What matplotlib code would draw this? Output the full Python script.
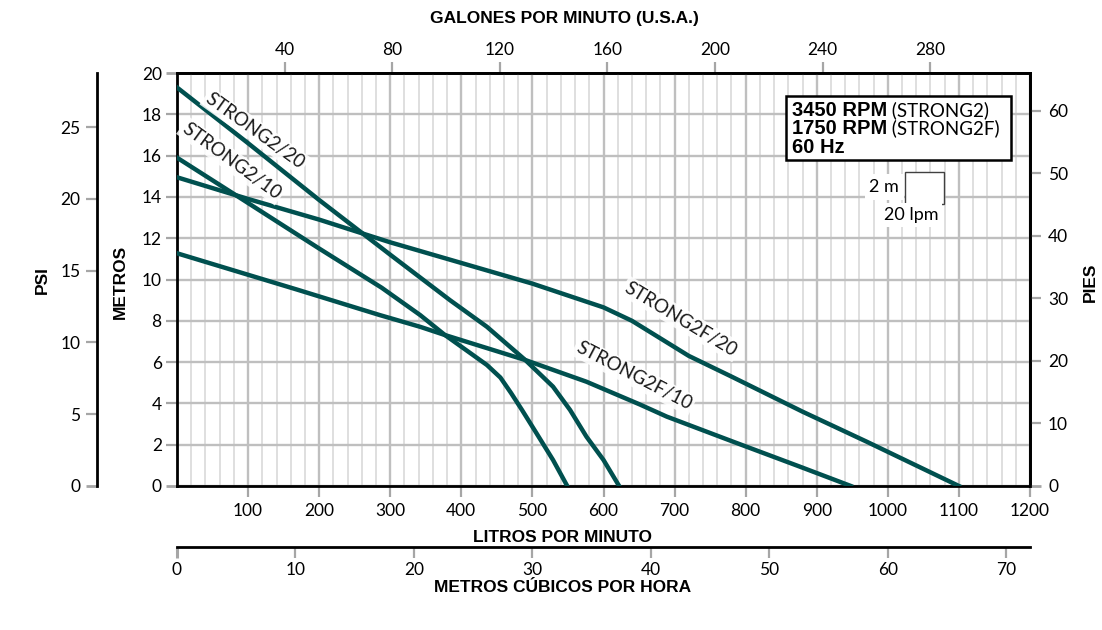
import matplotlib
matplotlib.use("Agg")
import matplotlib.pyplot as plt
from matplotlib import font_manager
from matplotlib.patches import Rectangle

# ---------------- data ----------------
s2_20_lpm = [0, 100, 200, 300, 384, 436, 490, 529, 553, 576, 600, 622]
s2_20_m = [19.3, 16.6, 13.85, 11.2, 9.0, 7.71, 6.1, 4.81, 3.68, 2.39, 1.26, 0.0]

s2_10_lpm = [0, 82, 150, 200, 288, 342, 377, 410, 436, 455, 470, 485, 506, 529, 549]
s2_10_m = [15.9, 14.1, 12.6, 11.5, 9.6, 8.28, 7.31, 6.5, 5.86, 5.25, 4.5, 3.7, 2.54, 1.26, 0.0]

s2f_20_lpm = [0, 100, 200, 300, 400, 500, 600, 640, 680, 720, 780, 880, 970, 1100]
s2f_20_m = [14.95, 13.9, 12.9, 11.8, 10.8, 9.8, 8.65, 8.0, 7.15, 6.3, 5.3, 3.6, 2.15, 0.0]

s2f_10_lpm = [0, 170, 285, 342, 377, 490, 576, 651, 689, 782, 876, 948]
s2f_10_m = [11.27, 9.5, 8.28, 7.71, 7.31, 6.1, 5.05, 3.95, 3.36, 2.15, 0.94, 0.0]

curve_names = ["STRONG2/20", "STRONG2/10", "STRONG2F/20", "STRONG2F/10"]

lpm_ticks = [100, 200, 300, 400, 500, 600, 700, 800, 900, 1000, 1100, 1200]
m_ticks = [0, 2, 4, 6, 8, 10, 12, 14, 16, 18, 20]
gpm_ticks = [40, 80, 120, 160, 200, 240, 280]
m3h_ticks = [0, 10, 20, 30, 40, 50, 60, 70]
psi_ticks = [0, 5, 10, 15, 20, 25]
ft_ticks = [0, 10, 20, 30, 40, 50, 60]

LPM_PER_GPM = 3.785
M3H_PER_LPM = 0.06
M_PER_PSI = 0.695
FT_PER_M = 3.3

# ---------------- fonts ----------------
names = {f.name for f in font_manager.fontManager.ttflist}
BOLD_FAM = ["Liberation Sans", "DejaVu Sans"]
TXT_FAM = ["Lato", "DejaVu Sans"] if "Lato" in names else ["DejaVu Sans"]
plt.rcParams["font.family"] = TXT_FAM

W, H = 1102, 630
fig = plt.figure(figsize=(W / 100, H / 100), dpi=100)
L, R, B, T = 177, 1030, 486, 73
ax = fig.add_axes([L / W, 1 - B / H, (R - L) / W, (B - T) / H])

CURVE = "#00504f"
GRID_MAJ = "#bfbfbf"
GRID_MIN = "#d6d6d6"
TICK = "#a6a6a6"

ax.set_xlim(0, 1200)
ax.set_ylim(0, 20)
ax.set_xticks(lpm_ticks)
ax.set_xticks(range(0, 1201, 20), minor=True)
ax.set_yticks(m_ticks)
ax.set_axisbelow(True)
ax.grid(which="major", axis="x", color=GRID_MAJ, lw=1.7)
ax.grid(which="minor", axis="x", color=GRID_MIN, lw=1.1)
ax.grid(which="major", axis="y", color=GRID_MAJ, lw=1.7)
ax.tick_params(which="minor", length=0)
ax.tick_params(which="major", color=TICK, width=1.6, length=8, labelsize=12.5, pad=4)
ax.tick_params(axis="y", pad=3)
for sp in ax.spines.values():
    sp.set_linewidth(2)
    sp.set_color("black")
yt = ax.yaxis.get_major_ticks()
for tk in (yt[0], yt[-1]):
    tk.tick1line.set_color("black")
    tk.tick1line.set_markeredgewidth(2)

for xs, ys in [(s2_20_lpm, s2_20_m), (s2_10_lpm, s2_10_m),
               (s2f_20_lpm, s2f_20_m), (s2f_10_lpm, s2f_10_m)]:
    ax.plot(xs, ys, color=CURVE, lw=3.2, solid_joinstyle="round", zorder=3)

label_pos = [(110, 17.19, -35.6), (77, 15.74, -36.0), (709, 8.09, -31.0), (643, 5.33, -27.5)]
for name, (x, y, rot) in zip(curve_names, label_pos):
    ax.text(x, y, name, rotation=rot, rotation_mode="anchor", ha="center", va="center",
            fontsize=13.5, family=TXT_FAM, color="#1a1a1a", zorder=4,
            bbox=dict(boxstyle="square,pad=0.12", fc="white", ec="none", alpha=0.85))

# ---- info box ----
def ax_x(px):
    return (px - L) / (R - L)

def ax_y(py):
    return (B - py) / (B - T)

box = Rectangle((ax_x(786), ax_y(160)), ax_x(1011) - ax_x(786), ax_y(96) - ax_y(160),
                transform=ax.transAxes, fc="white", ec="black", lw=1.8, zorder=5)
ax.add_patch(box)
rows = [("3450 RPM", " (STRONG2)", 116), ("1750 RPM", " (STRONG2F)", 134.3), ("60 Hz", "", 152.7)]
bold_texts = []
for bt, nt, by in rows:
    t = ax.text(ax_x(792), ax_y(by), bt, transform=ax.transAxes, family=BOLD_FAM,
                weight="bold", fontsize=14.5, va="baseline", ha="left", zorder=6)
    bold_texts.append((t, nt, by))
fig.canvas.draw()
inv = ax.transAxes.inverted()
for t, nt, by in bold_texts:
    if nt:
        bb = t.get_window_extent()
        xa = inv.transform((bb.x1, bb.y0))[0]
        ax.text(xa, ax_y(by), nt, transform=ax.transAxes, family=TXT_FAM,
                fontsize=13.5, va="baseline", ha="left", zorder=6)

# ---- scale square ----
sq = Rectangle((ax_x(905), ax_y(204)), ax_x(944) - ax_x(905), ax_y(172) - ax_y(204),
               transform=ax.transAxes, fc="white", ec="#404040", lw=1.0, zorder=5)
ax.add_patch(sq)
ax.text(ax_x(899), ax_y(187), "2 m", transform=ax.transAxes, ha="right", va="center",
        fontsize=13, zorder=5, bbox=dict(boxstyle="square,pad=0.25", fc="white", ec="none"))
ax.text(ax_x(911), ax_y(215), "20 lpm", transform=ax.transAxes, ha="center", va="center",
        fontsize=13, zorder=5, bbox=dict(boxstyle="square,pad=0.2", fc="white", ec="none"))

# ---- top axis (GPM) ----
top = ax.secondary_xaxis("top", functions=(lambda x: x / LPM_PER_GPM, lambda g: g * LPM_PER_GPM))
top.set_xticks(gpm_ticks)
top.tick_params(color=TICK, width=1.6, length=8, labelsize=12.5, pad=3)
top.spines["top"].set_linewidth(2)

# ---- bottom second axis (m3/h) ----
m3 = ax.secondary_xaxis(-0.148, functions=(lambda x: x * M3H_PER_LPM, lambda v: v / M3H_PER_LPM))
m3.set_xticks(m3h_ticks)
m3.tick_params(color=TICK, width=1.6, length=8, labelsize=12.5, pad=3)
m3.spines["bottom"].set_linewidth(2)
t0 = m3.xaxis.get_major_ticks()[0]
t0.tick1line.set_color("black")
t0.tick1line.set_markeredgewidth(2.2)

# ---- PSI axis ----
psi = ax.twinx()
psi.set_ylim(0, 20 / M_PER_PSI)
for s in ["top", "bottom", "right"]:
    psi.spines[s].set_visible(False)
psi.spines["left"].set_visible(True)
psi.spines["left"].set_position(("axes", (97 - L) / (R - L)))
psi.spines["left"].set_linewidth(2)
psi.yaxis.set_ticks_position("left")
psi.set_yticks(psi_ticks)
psi.tick_params(color=TICK, width=1.6, length=8, labelsize=12.5, pad=4)
p0 = psi.yaxis.get_major_ticks()[0]
p0.tick1line.set_color("black")
p0.tick1line.set_markeredgewidth(2)

# ---- PIES axis ----
ft = ax.twinx()
ft.set_ylim(0, 20 * FT_PER_M)
for s in ["top", "bottom", "left"]:
    ft.spines[s].set_visible(False)
ft.spines["right"].set_linewidth(2)
ft.set_yticks(ft_ticks)
ft.tick_params(color=TICK, width=1.6, length=8, labelsize=12.5, pad=5)
f0 = ft.yaxis.get_major_ticks()[0]
f0.tick2line.set_color("black")
f0.tick2line.set_markeredgewidth(2)

# ---- axis titles ----
def ftext(px, py, s, **kw):
    fig.text(px / W, 1 - py / H, s, ha="center", va="center", family=BOLD_FAM,
             weight="bold", fontsize=12.5, **kw)

ftext(564, 18, "GALONES POR MINUTO (U.S.A.)")
ftext(563, 537, "LITROS POR MINUTO")
ftext(563, 588, "METROS CÚBICOS POR HORA")
ftext(42, 280, "PSI", rotation=90)
ftext(120, 282, "METROS", rotation=90)
ftext(1090, 282, "PIES", rotation=90)

fig.savefig("out.png", dpi=100)
